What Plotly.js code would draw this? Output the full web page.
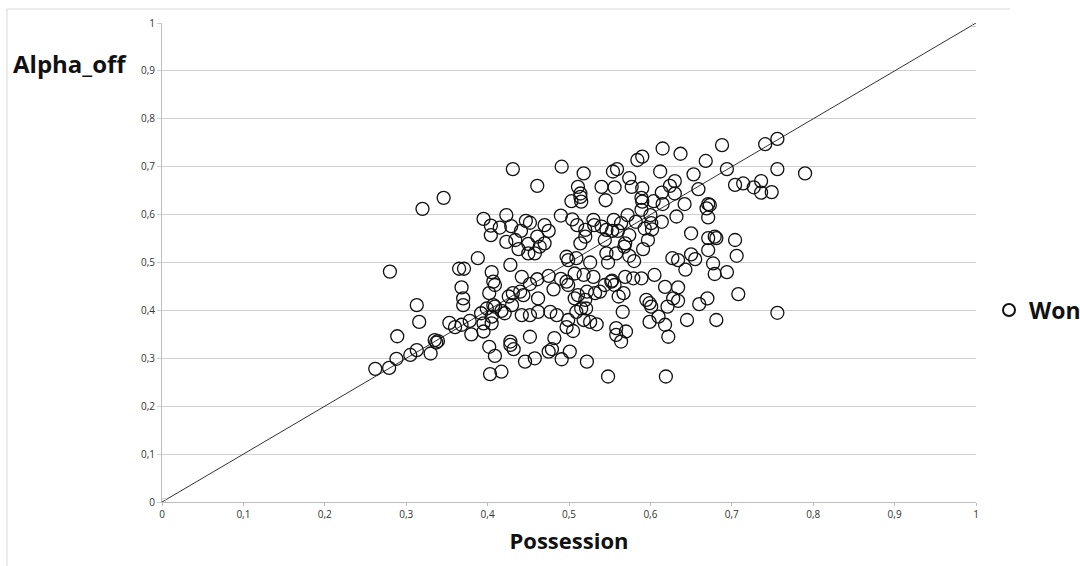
<!DOCTYPE html>
<html><head><meta charset="utf-8">
<script src="https://cdn.plot.ly/plotly-3.0.1.min.js"></script>
<style>body{margin:0;background:#fff}#chart{width:1080px;height:566px}</style>
</head><body><div id="chart"></div>
<script>
const possession = [
0.280,0.289,0.288,0.262,0.279,
0.431,0.461,0.346,0.320,0.395,0.423,0.404,0.415,0.404,0.429,0.447,0.452,0.441,0.434,0.423,0.450,0.438,0.450,0.461,0.388,0.365,0.371,0.428,0.405,
0.615,0.590,0.584,0.491,0.518,0.554,0.559,0.612,0.511,0.540,0.556,0.574,0.577,0.590,0.624,0.630,0.514,0.514,0.503,0.515,0.545,0.589,0.590,0.614,0.615,0.604,0.589,0.572,0.600,0.601,0.614,0.490,0.504,0.470,0.475,0.510,0.530,0.531,0.540,0.546,0.555,0.564,0.582,0.593,0.602,0.553,0.560,0.574,0.520,0.520,0.470,0.464,0.458,0.514,0.544,0.597,0.569,0.568,0.591,0.497,0.499,0.509,0.546,0.558,0.526,0.548,0.574,0.580,0.627,0.630,
0.741,0.756,0.688,0.637,0.668,0.694,0.756,0.790,0.653,0.704,0.714,0.727,0.736,0.736,0.749,0.659,0.642,0.671,0.673,0.669,0.671,0.632,0.650,0.671,0.679,0.681,0.704,0.671,0.706,0.650,0.655,0.634,0.643,0.677,0.694,0.679,
0.407,0.409,0.368,0.402,0.370,0.370,0.313,0.316,0.305,0.313,0.330,0.335,0.337,0.339,0.353,0.360,0.368,0.378,0.380,0.392,0.395,0.395,0.399,0.405,0.407,0.409,0.405,0.417,0.426,0.431,0.440,0.444,0.430,0.442,0.452,0.428,0.432,0.428,0.402,0.409,0.403,0.417,0.446,0.452,0.458,0.442,0.452,0.421,
0.481,0.462,0.462,0.477,0.485,0.499,0.497,0.505,0.509,0.515,0.521,0.518,0.526,0.534,0.507,0.511,0.520,0.522,0.532,0.497,0.499,0.507,0.518,0.530,0.538,0.544,0.552,0.553,0.556,0.561,0.567,0.569,0.579,0.589,0.605,0.618,0.595,0.599,0.601,0.621,0.628,0.566,0.599,0.610,0.618,0.622,0.558,0.558,0.564,0.570,0.482,0.475,0.479,0.491,0.501,0.522,0.548,0.619,0.461,0.475,0.490,
0.634,0.634,0.708,0.670,0.660,0.756,0.645,0.681
];
const alphaOff = [
0.481,0.346,0.299,0.278,0.280,
0.695,0.660,0.635,0.612,0.591,0.599,0.577,0.573,0.557,0.576,0.587,0.583,0.566,0.547,0.543,0.539,0.528,0.519,0.554,0.509,0.487,0.487,0.495,0.480,
0.738,0.721,0.714,0.700,0.686,0.690,0.695,0.690,0.658,0.658,0.657,0.676,0.658,0.655,0.660,0.670,0.644,0.637,0.628,0.627,0.630,0.635,0.627,0.646,0.622,0.628,0.610,0.599,0.599,0.582,0.585,0.598,0.590,0.578,0.566,0.578,0.589,0.578,0.575,0.568,0.589,0.582,0.585,0.571,0.569,0.566,0.566,0.557,0.568,0.554,0.540,0.533,0.519,0.540,0.547,0.547,0.540,0.533,0.528,0.512,0.505,0.509,0.519,0.519,0.500,0.500,0.514,0.503,0.509,0.644,
0.747,0.758,0.745,0.727,0.712,0.695,0.695,0.686,0.684,0.662,0.665,0.657,0.670,0.646,0.647,0.653,0.622,0.622,0.620,0.613,0.594,0.596,0.561,0.551,0.554,0.551,0.547,0.526,0.514,0.517,0.507,0.505,0.485,0.498,0.480,0.476,
0.460,0.453,0.448,0.436,0.425,0.411,0.411,0.376,0.307,0.317,0.310,0.338,0.333,0.336,0.374,0.365,0.370,0.378,0.350,0.394,0.373,0.356,0.404,0.387,0.411,0.408,0.373,0.399,0.429,0.436,0.439,0.432,0.411,0.390,0.390,0.328,0.319,0.335,0.324,0.305,0.267,0.272,0.293,0.345,0.300,0.470,0.455,0.394,
0.444,0.425,0.397,0.397,0.390,0.380,0.365,0.357,0.397,0.404,0.404,0.380,0.376,0.371,0.425,0.432,0.422,0.439,0.436,0.460,0.453,0.477,0.474,0.470,0.439,0.453,0.460,0.462,0.453,0.429,0.436,0.470,0.467,0.467,0.474,0.449,0.422,0.415,0.408,0.408,0.425,0.397,0.376,0.387,0.370,0.345,0.363,0.349,0.335,0.356,0.342,0.314,0.319,0.298,0.314,0.293,0.262,0.262,0.465,0.472,0.466,
0.448,0.420,0.434,0.425,0.413,0.395,0.380,0.380
];
const refLineX = [0, 1];
const refLineY = [0, 1];
const seriesName = 'Won';

const toPX = v => (v - 162) / 814;
const toPY = v => (502 - v) / 479;

const traces = [
  {x: refLineX, y: refLineY, type: 'scatter', mode: 'lines+markers', showlegend: false, hoverinfo: 'skip',
   line: {color: '#333', width: 1}, marker: {symbol: 'square-open', size: 7, color: '#c8c8c8', line: {width: 1}}},
  {x: possession, y: alphaOff, type: 'scatter', mode: 'markers', name: seriesName,
   marker: {symbol: 'circle-open', size: 13, color: '#111', line: {width: 1.3, color: '#111'}}}
];

const boldFont = (s) => ({family: 'Open Sans, sans-serif', size: s, color: '#111', weight: 'bold'});
const tickFont = {family: 'Open Sans, Liberation Sans, sans-serif', size: 10, color: '#333'};
const layout = {
  width: 1080, height: 566,
  margin: {l: 162, r: 104, t: 23, b: 64, autoexpand: false},
  paper_bgcolor: '#fff', plot_bgcolor: '#fff',
  separators: ', ',
  showlegend: true,
  legend: {x: toPX(989), y: toPY(310), xanchor: 'left', yanchor: 'middle', bgcolor: 'rgba(0,0,0,0)',
           font: boldFont(23), itemwidth: 30, itemsizing: 'constant'},
  xaxis: {range: [0, 1], dtick: 0.1, tick0: 0, showgrid: false, zeroline: false, showline: true, linecolor: '#bdbdbd', linewidth: 1,
          ticks: 'outside', ticklen: 3, tickcolor: '#bdbdbd', tickfont: tickFont, fixedrange: true,
          title: {text: 'Possession', font: boldFont(22), standoff: 13}},
  yaxis: {range: [0, 1], dtick: 0.1, tick0: 0, showgrid: true, gridcolor: '#cfcfcf', gridwidth: 1, zeroline: false, showline: true,
          linecolor: '#bdbdbd', linewidth: 1, ticks: 'outside', ticklen: 4, tickcolor: '#cfcfcf', tickfont: tickFont, fixedrange: true},
  annotations: [
    {text: 'Alpha_off', xref: 'paper', yref: 'paper', x: toPX(70), y: toPY(64), xanchor: 'center', yanchor: 'middle', showarrow: false,
     font: boldFont(24)}
  ],
  shapes: [
    {type: 'line', xref: 'paper', yref: 'paper', x0: toPX(7), x1: toPX(1010), y0: toPY(9), y1: toPY(9), line: {color: '#d9d9d9', width: 1}},
    {type: 'line', xref: 'paper', yref: 'paper', x0: toPX(7), x1: toPX(7), y0: toPY(9), y1: toPY(566), line: {color: '#d9d9d9', width: 1}}
  ]
};
Plotly.newPlot('chart', traces, layout, {displayModeBar: false, staticPlot: true});
</script>
</body></html>
